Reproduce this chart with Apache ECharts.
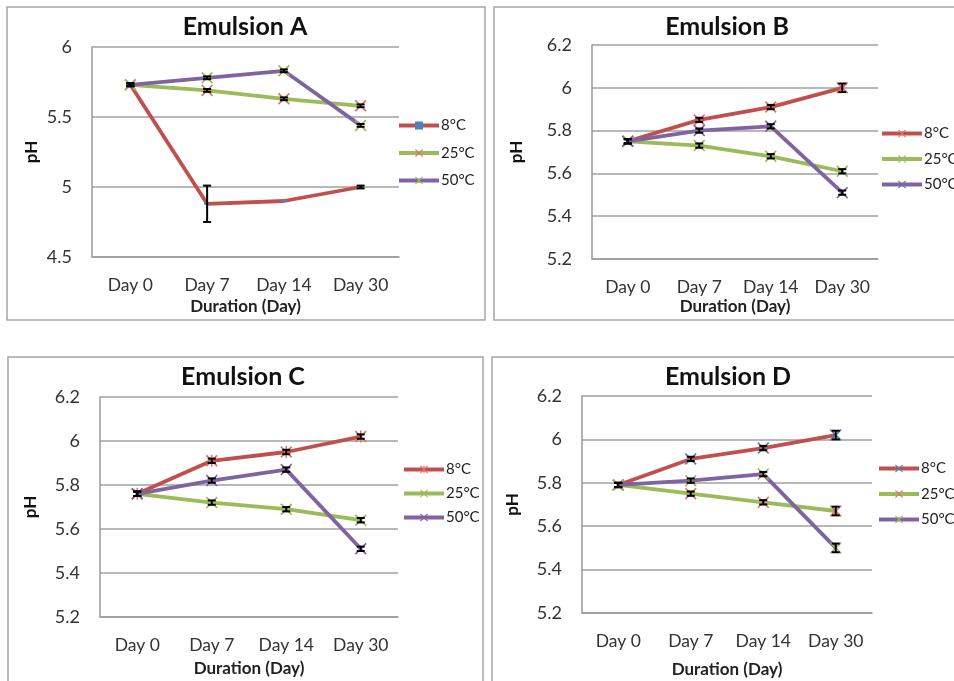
<!DOCTYPE html>
<html>
<head>
<meta charset="utf-8">
<script src="https://cdn.jsdelivr.net/npm/echarts@6/dist/echarts.min.js"></script>
<style>
html,body{margin:0;padding:0;background:#fff;}
#chart{width:954px;height:681px;}
</style>
</head>
<body>
<div id="chart"></div>
<script>
// ---------------- DATA ----------------
const categories = ['Day 0', 'Day 7', 'Day 14', 'Day 30'];
const temps = ['8°C', '25°C', '50°C'];
const panelTitles = ['Emulsion A', 'Emulsion B', 'Emulsion C', 'Emulsion D'];
const yTicksA = [4.5, 5, 5.5, 6];
const yTicksBCD = [5.2, 5.4, 5.6, 5.8, 6, 6.2];

const phA_8 = [5.73, 4.88, 4.90, 5.00];
const phA_25 = [5.73, 5.69, 5.63, 5.58];
const phA_50 = [5.73, 5.78, 5.83, 5.44];
const errA_8 = [0.01, 0.13, 0, 0.01];
const errA_25 = [0.01, 0.01, 0.01, 0.01];
const errA_50 = [0.01, 0.01, 0.01, 0.01];

const phB_8 = [5.75, 5.85, 5.91, 6.00];
const phB_25 = [5.75, 5.73, 5.68, 5.61];
const phB_50 = [5.75, 5.80, 5.82, 5.51];
const errB_8 = [0.01, 0.01, 0.01, 0.02];
const errB_25 = [0.01, 0.01, 0.01, 0.01];
const errB_50 = [0.01, 0.01, 0.01, 0.01];

const phC_8 = [5.76, 5.91, 5.95, 6.02];
const phC_25 = [5.76, 5.72, 5.69, 5.64];
const phC_50 = [5.76, 5.82, 5.87, 5.51];
const errC_8 = [0.01, 0.01, 0.01, 0.01];
const errC_25 = [0.01, 0.01, 0.01, 0.01];
const errC_50 = [0.01, 0.01, 0.01, 0.01];

const phD_8 = [5.79, 5.91, 5.96, 6.02];
const phD_25 = [5.79, 5.75, 5.71, 5.67];
const phD_50 = [5.79, 5.81, 5.84, 5.50];
const errD_8 = [0.01, 0.01, 0.01, 0.02];
const errD_25 = [0.01, 0.01, 0.01, 0.02];
const errD_50 = [0.01, 0.01, 0.01, 0.02];

// ---------------- STYLE / LAYOUT ----------------
const FONT = 'Lato';
const lineColors = ['#C0504D', '#9BBB59', '#8064A2'];
const BLUE = '#4F81BD', RED = '#E0706C', GREEN = '#9BBB59', PURPLE = '#8064A2';
const X_PATH = 'path://M0,1L1,0L5,4L9,0L10,1L6,5L10,9L9,10L5,6L1,10L0,9L4,5Z';
const STAR_PATH = 'path://M0,1L1,0L5,4L9,0L10,1L6,5L10,9L9,10L5,6L1,10L0,9L4,5Z M4.4,0L5.6,0L5.6,10L4.4,10Z';
const MS = 12;

const panels = [
  { key: 'A', data: [phA_8, phA_25, phA_50], err: [errA_8, errA_25, errA_50], ticks: yTicksA,
    grid: { left: 92, top: 47, width: 307, height: 210 },
    box: [7, 7, 478, 313], titleX: 245, titleY: 14, yNameGap: 52, xNameGap: 41,
    legend: { left: 397, top: 118 }, legendGap: 12.5,
    markers: [ { symbol: 'rect', size: [6, 2], color: BLUE }, { symbol: X_PATH, size: MS, color: RED }, { symbol: X_PATH, size: MS, color: GREEN } ] },
  { key: 'B', data: [phB_8, phB_25, phB_50], err: [errB_8, errB_25, errB_50], ticks: yTicksBCD,
    grid: { left: 592, top: 45, width: 286, height: 214 },
    box: [494, 7, 480, 313], titleX: 727, titleY: 14, yNameGap: 67, xNameGap: 39,
    legend: { left: 880, top: 126 }, legendGap: 10.5,
    markers: [ { symbol: X_PATH, size: MS, color: RED }, { symbol: X_PATH, size: MS, color: GREEN }, { symbol: X_PATH, size: MS, color: PURPLE } ] },
  { key: 'C', data: [phC_8, phC_25, phC_50], err: [errC_8, errC_25, errC_50], ticks: yTicksBCD,
    grid: { left: 100, top: 397, width: 298, height: 220 },
    box: [8, 357, 475, 340], titleX: 243, titleY: 364, yNameGap: 61, xNameGap: 43,
    legend: { left: 402, top: 462 }, legendGap: 9,
    markers: [ { symbol: STAR_PATH, size: MS, color: RED }, { symbol: X_PATH, size: MS, color: GREEN }, { symbol: X_PATH, size: MS, color: PURPLE } ] },
  { key: 'D', data: [phD_8, phD_25, phD_50], err: [errD_8, errD_25, errD_50], ticks: yTicksBCD,
    grid: { left: 582, top: 396, width: 290, height: 217 },
    box: [492, 357, 480, 340], titleX: 728, titleY: 364, yNameGap: 61, xNameGap: 48,
    legend: { left: 877, top: 461 }, legendGap: 10.5,
    markers: [ { symbol: X_PATH, size: MS, color: BLUE }, { symbol: X_PATH, size: MS, color: RED }, { symbol: X_PATH, size: MS, color: GREEN } ] }
];

function renderErr(params, api) {
  const x = api.value(0), lo = api.value(1), hi = api.value(2);
  if (hi - lo <= 0) return { type: 'group', children: [] };
  const t = api.coord([x, hi]);
  const b = api.coord([x, lo]);
  const w = 4;
  const st = { stroke: '#000', lineWidth: 2 };
  return { type: 'group', children: [
    { type: 'line', shape: { x1: t[0], y1: t[1], x2: b[0], y2: b[1] }, style: st },
    { type: 'line', shape: { x1: t[0] - w, y1: t[1], x2: t[0] + w, y2: t[1] }, style: st },
    { type: 'line', shape: { x1: b[0] - w, y1: b[1], x2: b[0] + w, y2: b[1] }, style: st }
  ] };
}

const option = {
  animation: false,
  backgroundColor: '#fff',
  textStyle: { fontFamily: FONT },
  title: [], grid: [], xAxis: [], yAxis: [], legend: [], series: [],
  graphic: []
};

panels.forEach((p, i) => {
  option.graphic.push({ type: 'rect', shape: { x: p.box[0], y: p.box[1], width: p.box[2], height: p.box[3] },
    style: { fill: 'none', stroke: '#a6a6a6', lineWidth: 1.5 }, silent: true, z: -1 });
  option.title.push({ text: panelTitles[i], left: p.titleX, top: p.titleY, textAlign: 'center',
    textStyle: { fontFamily: FONT, fontSize: 25, fontWeight: 'bold', color: '#111' }, padding: 0 });
  option.grid.push(Object.assign({ containLabel: false }, p.grid));
  option.xAxis.push({ type: 'category', gridIndex: i, data: categories, boundaryGap: true,
    name: 'Duration (Day)', nameLocation: 'middle', nameGap: p.xNameGap,
    nameTextStyle: { fontFamily: FONT, fontSize: 17, fontWeight: 'bold', color: '#222' },
    axisLine: { show: true, lineStyle: { color: '#999', width: 1.5 } },
    axisTick: { show: false },
    axisLabel: { fontFamily: FONT, fontSize: 17.5, color: '#333', margin: 19, interval: 0, hideOverlap: false },
    splitLine: { show: false } });
  const t = p.ticks;
  option.yAxis.push({ type: 'value', gridIndex: i, min: t[0], max: t[t.length - 1], interval: t[1] - t[0],
    name: 'pH', nameLocation: 'middle', nameGap: p.yNameGap,
    nameTextStyle: { fontFamily: FONT, fontSize: 17, fontWeight: 'bold', color: '#111' },
    axisLine: { show: true, lineStyle: { color: '#999', width: 1.5 } },
    axisTick: { show: false },
    axisLabel: { fontFamily: FONT, fontSize: 18, color: '#333', margin: 20,
      formatter: v => String(Math.round(v * 10) / 10) },
    splitLine: { show: true, lineStyle: { color: '#a0a0a0', width: 1.5 } } });
  const names = temps.map(n => p.key + '|' + n);
  option.legend.push({ data: names, orient: 'vertical', left: p.legend.left, top: p.legend.top,
    itemWidth: 40, itemHeight: 10, itemGap: p.legendGap, padding: 0, selectedMode: false,
    lineStyle: { width: 4 },
    formatter: n => n.split('|')[1],
    textStyle: { fontFamily: FONT, fontSize: 15, color: '#222', padding: [0, 0, 0, -3] } });
  temps.forEach((tn, k) => {
    const m = p.markers[k];
    option.series.push({ type: 'line', name: names[k], xAxisIndex: i, yAxisIndex: i,
      data: p.data[k], symbol: m.symbol, symbolSize: m.size, showSymbol: true,
      itemStyle: { color: m.color }, lineStyle: { color: lineColors[k], width: 3.8 }, z: 2 });
  });
  temps.forEach((tn, k) => {
    const vals = p.data[k], errs = p.err[k];
    option.series.push({ type: 'custom', name: 'err' + p.key + k, xAxisIndex: i, yAxisIndex: i,
      renderItem: renderErr, encode: { x: 0, y: [1, 2] }, z: 3,
      data: vals.map((v, j) => [j, v - errs[j], v + errs[j]]) });
  });
});

const chart = echarts.init(document.getElementById('chart'), null, { renderer: 'canvas' });
chart.setOption(option);
</script>
</body>
</html>
